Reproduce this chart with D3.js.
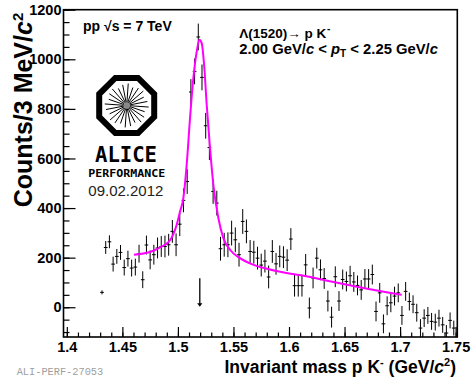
<!DOCTYPE html>
<html><head><meta charset="utf-8">
<script src="https://cdn.jsdelivr.net/npm/d3@7"></script>
<style>
html,body{margin:0;padding:0;background:#fff;}
svg{display:block;}
text{font-family:"Liberation Sans",Arial,sans-serif;}
</style></head>
<body>
<svg id="c" width="476" height="380"></svg>
<script>
// ---- data ----
const binLow = 1.4;          // histogram lower edge (GeV/c^2)
const binWidth = 1 / 300;    // bin width
const firstBin = 9;          // index of first filled bin
const counts = [60,241,264,174,205,221,160,196,158,162,
  216,111,251,191,212,239,245,245,252,306,
  252,335,431,507,868,951,1090,927,732,644,
  467,420,236,252,252,299,272,212,346,306,
  225,222,198,170,186,122,225,175,205,202,
  190,275,87,87,87,171,-3,118,198,151,
  116,25,-40,123,25,112,104,127,102,88,
  70,114,114,132,-17,58,-67,6,18,45,
  58,-33,64,23,12,-22,-84,-44,-33,-57,
  -60,-44,-71,-104,-53,-84];
const errors = [8,26,26,30,30,30,32,32,34,34,
  36,34,38,38,40,42,42,44,44,46,
  46,48,48,50,52,52,54,52,52,50,
  50,50,48,48,50,50,50,48,50,48,
  46,46,46,46,46,46,46,44,44,44,
  44,44,44,44,44,44,42,42,42,42,
  42,42,42,42,40,40,40,40,40,40,
  40,40,40,40,40,40,38,38,38,38,
  38,38,38,36,36,36,36,36,34,34,
  34,34,32,32,32,30];
const fitMass = [1.4604,1.4689,1.4779,1.4854,1.4929,1.4989,1.5019,1.5049,1.5079,1.5109,1.5139,1.5169,1.5193,1.5214,1.5238,1.5259,1.5289,1.5319,1.5364,1.5409,1.5469,1.5559,1.5664,1.5784,1.5964,1.6144,1.6334,1.6634,1.7014];
const fitVal  = [212,217,228,245,270,333,386,440,575,763,924,1031,1079,1065,964,817,642,494,360,279,232,198,174,157,139,126,108,81,50];
const arrowMass = 1.5197, arrowTop = 117, arrowBottom = 2;
const xTickLabels = [1.4,1.45,1.5,1.55,1.6,1.65,1.7,1.75];
const yTickLabels = [0,200,400,600,800,1000,1200];

// ---- scales ----
const X0 = 63.5, X1 = 457.3, Y0 = 337, Y1 = 9.7;
const x = d3.scaleLinear().domain([1.397, 1.7515]).range([X0, X1]);
const y = d3.scaleLinear().domain([-120, 1200]).range([Y0, Y1]);
const svg = d3.select("#c");
svg.append("defs").append("clipPath").attr("id","plot").append("rect")
  .attr("x",X0).attr("y",Y1).attr("width",X1-X0).attr("height",Y0-Y1);

// ---- data points ----
const pts = counts.map((v,k)=>{const i=firstBin+k; return {m: binLow+(i+0.5)*binWidth, v, e: errors[k]};});
const gp = svg.append("g").attr("clip-path","url(#plot)").attr("stroke","#000").attr("stroke-width",1);
gp.selectAll("line.v").data(pts).join("line").attr("class","v")
  .attr("x1",d=>x(d.m)).attr("x2",d=>x(d.m)).attr("y1",d=>y(d.v-d.e)).attr("y2",d=>y(d.v+d.e));
gp.selectAll("line.h").data(pts).join("line").attr("class","h")
  .attr("x1",d=>x(d.m-binWidth/2)).attr("x2",d=>x(d.m+binWidth/2)).attr("y1",d=>y(d.v)).attr("y2",d=>y(d.v));

// ---- fit ----
const fit = fitMass.map((m,k)=>({m, v: fitVal[k]}));
svg.append("path").datum(fit).attr("fill","none").attr("stroke","#ff00ff").attr("stroke-width",2)
  .attr("d", d3.line().x(d=>x(d.m)).y(d=>y(d.v)).curve(d3.curveMonotoneX));

// ---- arrow ----
const ax = x(arrowMass);
svg.append("line").attr("x1",ax).attr("x2",ax).attr("y1",y(arrowTop)).attr("y2",y(arrowBottom)-2)
  .attr("stroke","#000").attr("stroke-width",1.3);
svg.append("path").attr("d",`M${ax-2.6},${y(arrowBottom)-3.6}L${ax+2.6},${y(arrowBottom)-3.6}L${ax},${y(arrowBottom)}Z`).attr("fill","#000");

// ---- axes ----
const noLabel = () => "";
svg.append("g").attr("class","maj").attr("transform",`translate(0,${Y0})`)
  .call(d3.axisBottom(x).tickValues(xTickLabels).tickSize(-10).tickPadding(4.6).tickFormat(d=>String(d)));
svg.append("g").attr("transform",`translate(0,${Y0})`)
  .call(d3.axisBottom(x).tickValues(d3.range(140,176).map(k=>k/100)).tickSize(-4.5).tickFormat(noLabel));
svg.append("g").attr("class","maj").attr("transform",`translate(${X0},0)`)
  .call(d3.axisLeft(y).tickValues(yTickLabels).tickSize(-12).tickPadding(2).tickFormat(d=>String(d)));
svg.append("g").attr("transform",`translate(${X0},0)`)
  .call(d3.axisLeft(y).tickValues(d3.range(-100,1201,50)).tickSize(-6).tickFormat(noLabel));
svg.selectAll(".domain").remove();
svg.selectAll(".tick line").attr("stroke","#000").attr("stroke-width",1.2);
svg.selectAll(".maj .tick text").attr("fill","#000")
  .attr("font-family",'"Liberation Sans", Arial, sans-serif').attr("font-weight","bold").attr("font-size",14.5);

// frame
svg.append("rect").attr("x",X0).attr("y",Y1).attr("width",X1-X0).attr("height",Y0-Y1)
  .attr("fill","none").attr("stroke","#000").attr("stroke-width",1.6);

// ---- texts ----
function sup(after, str, dy, size){
  const bb = after.node().getBBox();
  return svg.append("text").attr("x",bb.x+bb.width+0.5).attr("y",+after.attr("y")+dy)
    .style("font",`bold ${size}px "Liberation Sans", Arial, sans-serif`).text(str);
}
svg.append("text").attr("x",83).attr("y",30.5).style("font",'bold 14px "Liberation Sans", Arial, sans-serif')
  .text("pp \u221As = 7 TeV");

const t1 = svg.append("text").attr("x",239.3).attr("y",37.5).style("font",'bold 13.5px "Liberation Sans", Arial, sans-serif')
  .text("\u039B(1520)\u2192 p K");
sup(t1, "-", -6, 10);

const t2 = svg.append("text").attr("x",239.3).attr("y",53.5).style("font",'bold 14.8px "Liberation Sans", Arial, sans-serif');
t2.append("tspan").text("2.00 GeV/");
t2.append("tspan").style("font-style","italic").text("c");
t2.append("tspan").text(" < ");
t2.append("tspan").style("font-style","italic").text("p");
t2.append("tspan").attr("dy",3.5).style("font-size","10px").text("T");
t2.append("tspan").attr("dy",-3.5).text(" < 2.25 GeV/");
t2.append("tspan").style("font-style","italic").text("c");

// y title
const yt = svg.append("text").attr("transform","translate(32,110) rotate(-90)").attr("text-anchor","middle")
  .style("font",'bold 25px "Liberation Sans", Arial, sans-serif');
yt.append("tspan").text("Counts/3 MeV/");
yt.append("tspan").style("font-style","italic").text("c");
yt.append("tspan").attr("dy",-9).style("font-size","15px").text("2");

// x title
const xt = svg.append("text").attr("x",456).attr("y",373).attr("text-anchor","end")
  .style("font",'bold 17.5px "Liberation Sans", Arial, sans-serif');
xt.append("tspan").text("Invariant mass p K");
xt.append("tspan").attr("dy",-7).style("font-size","11px").text("-");
xt.append("tspan").attr("dy",7).text(" (GeV/");
xt.append("tspan").style("font-style","italic").text("c");
xt.append("tspan").attr("dy",-7).style("font-size","11px").text("2");
xt.append("tspan").attr("dy",7).text(")");

// ALICE logo
const cx = 126.7, cy = 105.5, ap = 27.5;
const R = ap / Math.cos(Math.PI/8);
const oct = d3.range(8).map(k=>{const a = Math.PI/8 + k*Math.PI/4; return [cx+R*Math.cos(a), cy+R*Math.sin(a)];});
svg.append("path").attr("d","M"+oct.map(p=>p.join(",")).join("L")+"Z")
  .attr("fill","#fff").attr("stroke","#000").attr("stroke-width",6).attr("stroke-linejoin","miter");
const spokes = svg.append("g").attr("stroke","#000").attr("stroke-width",1);
d3.range(24).forEach(k=>{
  const a = k*Math.PI/12 + 0.07;
  const r2 = 21 + (k%3===0 ? 1 : (k%3===1 ? -2 : 0));
  spokes.append("line").attr("x1",cx+3*Math.cos(a)).attr("y1",cy+3*Math.sin(a))
    .attr("x2",cx+r2*Math.cos(a)).attr("y2",cy+r2*Math.sin(a));
});
svg.append("circle").attr("cx",cx).attr("cy",cy).attr("r",3).attr("fill","#888");
svg.append("text").attr("x",95).attr("y",161.7).attr("textLength",62).attr("lengthAdjust","spacingAndGlyphs")
  .style("font",'bold 22px "DejaVu Sans Mono", monospace').text("ALICE");
svg.append("text").attr("x",88.3).attr("y",177.3).attr("textLength",77).attr("lengthAdjust","spacingAndGlyphs")
  .style("font",'bold 10px "DejaVu Sans Mono", monospace').text("PERFORMANCE");
svg.append("text").attr("x",88.3).attr("y",196).style("font",'15px "Liberation Sans", Arial, sans-serif').attr("fill","#222").text("09.02.2012");

svg.append("text").attr("x",16.7).attr("y",375).style("font",'10.3px "Liberation Mono", monospace').attr("fill","#a0a0a0").text("ALI-PERF-27053");
</script>
</body></html>
